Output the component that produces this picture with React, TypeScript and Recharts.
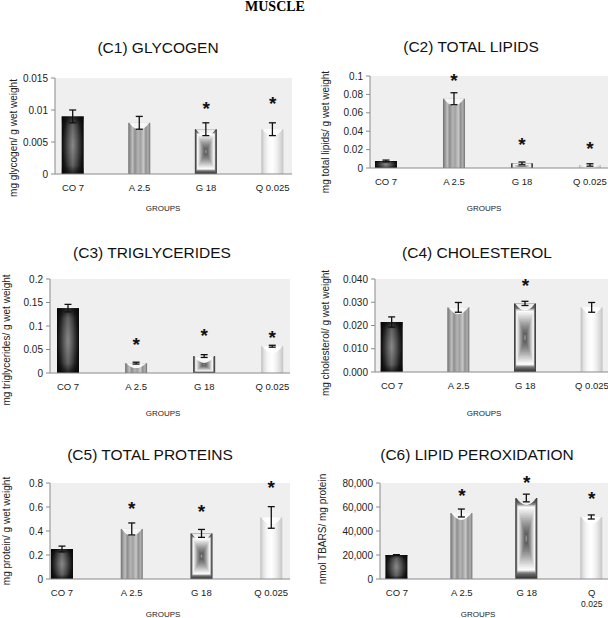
import React from "react";
import {
  ComposedChart,
  Bar,
  XAxis,
  YAxis,
  CartesianGrid,
  ErrorBar,
  ReferenceDot,
} from "recharts";

const FONT = "'Liberation Sans', Arial, sans-serif";

const GROUPS = ["CO 7", "A 2.5", "G 18", "Q 0.025"];

const glycogen = [0.009, 0.008, 0.007, 0.007];
const glycogenErr = [0.001, 0.001, 0.001, 0.001];
const glycogenStars = [null, null, 0.0108, 0.0117];
const glycogenTicks = [0, 0.005, 0.01, 0.015];

const lipids = [0.0076, 0.0753, 0.005, 0.0033];
const lipidsErr = [0.001, 0.0065, 0.0015, 0.0013];
const lipidsStars = [null, 0.099, 0.0304, 0.026];
const lipidsTicks = [0, 0.02, 0.04, 0.06, 0.08, 0.1];

const triglycerides = [0.138, 0.021, 0.036, 0.057];
const triglyceridesErr = [0.008, 0.002, 0.003, 0.002];
const triglyceridesStars = [null, 0.07, 0.089, 0.085];
const triglyceridesTicks = [0, 0.05, 0.1, 0.15, 0.2];

const cholesterol = [0.0215, 0.0278, 0.0295, 0.0278];
const cholesterolErr = [0.0022, 0.0021, 0.0009, 0.0021];
const cholesterolStars = [null, null, 0.039, null];
const cholesterolTicks = [0, 0.01, 0.02, 0.03, 0.04];

const proteins = [0.25, 0.417, 0.38, 0.513];
const proteinsErr = [0.024, 0.05, 0.033, 0.09];
const proteinsStars = [null, 0.625, 0.6, 0.8];
const proteinsTicks = [0, 0.2, 0.4, 0.6, 0.8];

const peroxidation = [20000, 55000, 67500, 51700];
const peroxidationErr = [300, 3300, 3200, 1700];
const peroxidationStars = [null, 73300, 84000, 70800];
const peroxidationTicks = [0, 20000, 40000, 60000, 80000];

const plain = (v: number) => String(v);
const fixed3 = (v: number) => v.toFixed(3);
const thousands = (v: number) => v.toLocaleString("en-US");

// layout for each panel (plot box in page pixels)
const PANELS = [
  {
    title: "(C1) GLYCOGEN", yLabel: "mg glycogen/ g wet weight",
    values: glycogen, err: glycogenErr, stars: glycogenStars, ticks: glycogenTicks, fmt: plain,
    box: { x0: 55, x1: 292, y0: 78, y1: 174 }, xDomain: [-0.27, 3.29],
    titleAt: [158, 48], yLabelAt: [13, 138], groupsAt: [163, 208],
  },
  {
    title: "(C2) TOTAL LIPIDS", yLabel: "mg total lipids/ g wet weight",
    values: lipids, err: lipidsErr, stars: lipidsStars, ticks: lipidsTicks, fmt: plain,
    box: { x0: 370, x1: 608, y0: 76, y1: 168 }, xDomain: [-0.235, 3.265],
    titleAt: [471, 47], yLabelAt: [325, 132], groupsAt: [484, 208],
  },
  {
    title: "(C3) TRIGLYCERIDES", yLabel: "mg triglycerides/ g wet weight",
    values: triglycerides, err: triglyceridesErr, stars: triglyceridesStars, ticks: triglyceridesTicks, fmt: plain,
    box: { x0: 50, x1: 290, y0: 279, y1: 373 }, xDomain: [-0.265, 3.26],
    titleAt: [152, 253], yLabelAt: [6, 340], groupsAt: [163, 413],
  },
  {
    title: "(C4) CHOLESTEROL", yLabel: "mg cholesterol/ g wet weight",
    values: cholesterol, err: cholesterolErr, stars: cholesterolStars, ticks: cholesterolTicks, fmt: fixed3,
    box: { x0: 375, x1: 608, y0: 279, y1: 372 }, xDomain: [-0.255, 3.24],
    titleAt: [477, 253], yLabelAt: [325, 333], groupsAt: [484, 413],
  },
  {
    title: "(C5) TOTAL PROTEINS", yLabel: "mg protein/ g wet weight",
    values: proteins, err: proteinsErr, stars: proteinsStars, ticks: proteinsTicks, fmt: plain,
    box: { x0: 50, x1: 290, y0: 483, y1: 579 }, xDomain: [-0.17, 3.27],
    titleAt: [150, 455], yLabelAt: [6, 531], groupsAt: [163, 614],
  },
  {
    title: "(C6) LIPID PEROXIDATION", yLabel: "nmol TBARS/ mg protein",
    values: peroxidation, err: peroxidationErr, stars: peroxidationStars, ticks: peroxidationTicks, fmt: thousands,
    box: { x0: 380, x1: 608, y0: 483, y1: 579 }, xDomain: [-0.26, 3.25], wrapLast: true,
    titleAt: [477, 455], yLabelAt: [322, 529], groupsAt: [478, 614],
  },
];

const G_STOPS: [number, number][] = [
  [0, 0x38], [0.12, 0x70], [0.2, 0xff], [0.36, 0xd8], [0.65, 0x8c], [0.88, 0x5e], [1, 0xc0],
];

function grey(t: number) {
  for (let i = 1; i < G_STOPS.length; i++) {
    const [t1, c1] = G_STOPS[i];
    const [t0, c0] = G_STOPS[i - 1];
    if (t <= t1) {
      const c = Math.round(c0 + ((t - t0) / (t1 - t0)) * (c1 - c0));
      return `rgb(${c},${c},${c})`;
    }
  }
  return "#c0c0c0";
}

function Cap({ x, y, width, height }: any) {
  const d = Math.min(7, height * 0.5);
  if (d < 1) return null;
  return (
    <path
      d={`M${x + 1},${y} L${x + width - 1},${y} Q${x + width / 2},${y + 2 * d} ${x + 1},${y} Z`}
      fill="#fff"
      opacity={0.9}
    />
  );
}

function BarShape(props: any) {
  const { x, y, width, height } = props;
  const idx = props.index ?? props.payload?.x ?? 0;
  if (!height || height <= 0) return null;
  if (idx === 0) {
    return (
      <g>
        <rect x={x} y={y} width={width} height={height} fill="url(#gCO)" />
        <rect x={x} y={y} width={width} height={height} fill="url(#gCOr)" />
        <rect x={x} y={y} width={width} height={height} fill="url(#gCOv)" />
      </g>
    );
  }
  if (idx === 2) {
    const n = 24;
    const rects = [];
    for (let i = 0; i < n; i++) {
      const t = i / n;
      const dx = (t * width) / 2;
      const dy = (t * height) / 2;
      rects.push(
        <rect key={i} x={x + dx} y={y + dy} width={width - 2 * dx} height={height - 2 * dy} fill={grey(t)} />
      );
    }
    return (
      <g>
        {rects}
        <Cap x={x} y={y} width={width} height={height} />
      </g>
    );
  }
  return (
    <g>
      <rect x={x} y={y} width={width} height={height} fill={idx === 1 ? "url(#gA)" : "url(#gQ)"} />
      <Cap x={x} y={y} width={width} height={height} />
    </g>
  );
}

function Star({ cx, cy }: any) {
  return (
    <text x={cx} y={cy + 10.5} textAnchor="middle" fontSize={19} fontWeight="bold" fontFamily={FONT} fill="#111">
      *
    </text>
  );
}

function GroupTick({ x, y, payload, wrapLast }: any) {
  const label = GROUPS[payload.value] ?? "";
  if (wrapLast && payload.value === GROUPS.length - 1) {
    const [a, b] = label.split(" ");
    return (
      <g>
        <text x={x} y={y + 8.5} textAnchor="middle" fontSize={9.5} fontFamily={FONT} fill="#222">{a}</text>
        <text x={x} y={y + 20} textAnchor="middle" fontSize={8.5} fontFamily={FONT} fill="#222">{b}</text>
      </g>
    );
  }
  return (
    <text x={x} y={y + 8.5} textAnchor="middle" fontSize={9.5} fontFamily={FONT} fill="#222">
      {label}
    </text>
  );
}

function Panel({ p }: { p: any }) {
  const { x0, x1, y0, y1 } = p.box;
  const yw = 45;
  const left = x0 - yw;
  const top = y0 - 12;
  const width = x1 - x0 + yw;
  const height = y1 - y0 + 12 + 40;
  const rows = GROUPS.map((g, i) => ({ x: i, name: g, v: p.values[i], err: p.err[i] }));
  const ticks = p.ticks;
  return (
    <>
      <div
        style={{
          position: "absolute", left: p.titleAt[0], top: p.titleAt[1],
          transform: "translate(-50%, -50%)", whiteSpace: "nowrap",
          fontFamily: FONT, fontSize: 15.5, color: "#111",
        }}
      >
        {p.title}
      </div>
      <div
        style={{
          position: "absolute", left: p.yLabelAt[0], top: p.yLabelAt[1],
          transform: "translate(-50%, -50%) rotate(-90deg)", whiteSpace: "nowrap",
          fontFamily: FONT, fontSize: 10, color: "#222",
        }}
      >
        {p.yLabel}
      </div>
      <div
        style={{
          position: "absolute", left: p.groupsAt[0], top: p.groupsAt[1],
          transform: "translate(-50%, -50%)", whiteSpace: "nowrap",
          fontFamily: FONT, fontSize: 8, color: "#222",
        }}
      >
        GROUPS
      </div>
      <div style={{ position: "absolute", left, top }}>
        <ComposedChart
          width={width}
          height={height}
          data={rows}
          margin={{ top: 12, right: 0, bottom: 10, left: 0 }}
          style={{ overflow: "visible" }}
        >
          <CartesianGrid fill="#efefef" horizontal={false} vertical={false} stroke="none" />
          <XAxis
            type="number"
            dataKey="x"
            domain={p.xDomain}
            ticks={[0, 1, 2, 3]}
            interval={0}
            height={30}
            tickLine={false}
            axisLine={{ stroke: "#8a8a8a" }}
            tick={<GroupTick wrapLast={p.wrapLast} />}
          />
          <YAxis
            type="number"
            domain={[ticks[0], ticks[ticks.length - 1]]}
            ticks={ticks}
            interval={0}
            width={yw}
            tickSize={4}
            tickMargin={3}
            tickFormatter={p.fmt}
            axisLine={{ stroke: "#8a8a8a" }}
            tickLine={{ stroke: "#8a8a8a" }}
            tick={{ fontSize: 10, fill: "#222", fontFamily: FONT }}
          />
          <Bar dataKey="v" barSize={22} shape={<BarShape />} isAnimationActive={false}>
            <ErrorBar dataKey="err" width={3.5} stroke="#111" strokeWidth={1.3} direction="y" />
          </Bar>
          {p.stars.map((s: number | null, i: number) =>
            s == null ? null : (
              <ReferenceDot key={i} x={i} y={s} r={0} ifOverflow="visible" shape={<Star />} />
            )
          )}
        </ComposedChart>
      </div>
    </>
  );
}

export default function App() {
  return (
    <div style={{ position: "absolute", left: 0, top: 0, width: 608, height: 618, background: "#fff" }}>
      <svg width={0} height={0} style={{ position: "absolute" }}>
        <defs>
          <linearGradient id="gCO" x1="0" y1="0" x2="1" y2="0">
            <stop offset="0" stopColor="#080808" />
            <stop offset="0.18" stopColor="#1c1c1c" />
            <stop offset="0.5" stopColor="#555" />
            <stop offset="0.82" stopColor="#1c1c1c" />
            <stop offset="1" stopColor="#080808" />
          </linearGradient>
          <radialGradient id="gCOr" cx="0.5" cy="0.5" r="0.5">
            <stop offset="0" stopColor="#fff" stopOpacity="0.3" />
            <stop offset="1" stopColor="#fff" stopOpacity="0" />
          </radialGradient>
          <linearGradient id="gCOv" x1="0" y1="0" x2="0" y2="1">
            <stop offset="0" stopColor="#000" stopOpacity="0.6" />
            <stop offset="0.15" stopColor="#000" stopOpacity="0" />
            <stop offset="0.85" stopColor="#000" stopOpacity="0" />
            <stop offset="1" stopColor="#000" stopOpacity="0.6" />
          </linearGradient>
          <linearGradient id="gA" x1="0" y1="0" x2="1" y2="0">
            <stop offset="0" stopColor="#6e6e6e" />
            <stop offset="0.1" stopColor="#9a9a9a" />
            <stop offset="0.2" stopColor="#c0c0c0" />
            <stop offset="0.3" stopColor="#8e8e8e" />
            <stop offset="0.45" stopColor="#b5b5b5" />
            <stop offset="0.55" stopColor="#a0a0a0" />
            <stop offset="0.7" stopColor="#c8c8c8" />
            <stop offset="0.8" stopColor="#909090" />
            <stop offset="0.9" stopColor="#b0b0b0" />
            <stop offset="1" stopColor="#707070" />
          </linearGradient>
          <linearGradient id="gQ" x1="0" y1="0" x2="1" y2="0">
            <stop offset="0" stopColor="#bdbdbd" />
            <stop offset="0.12" stopColor="#e0e0e0" />
            <stop offset="0.3" stopColor="#f7f7f7" />
            <stop offset="0.5" stopColor="#ffffff" />
            <stop offset="0.7" stopColor="#f0f0f0" />
            <stop offset="0.88" stopColor="#d8d8d8" />
            <stop offset="1" stopColor="#c4c4c4" />
          </linearGradient>
        </defs>
      </svg>
      <div
        style={{
          position: "absolute", left: 275, top: 7, transform: "translate(-50%, -50%)",
          fontFamily: "'Liberation Serif', 'Times New Roman', serif", fontWeight: "bold", fontSize: 14,
        }}
      >
        MUSCLE
      </div>
      {PANELS.map((p) => (
        <Panel key={p.title} p={p} />
      ))}
    </div>
  );
}
